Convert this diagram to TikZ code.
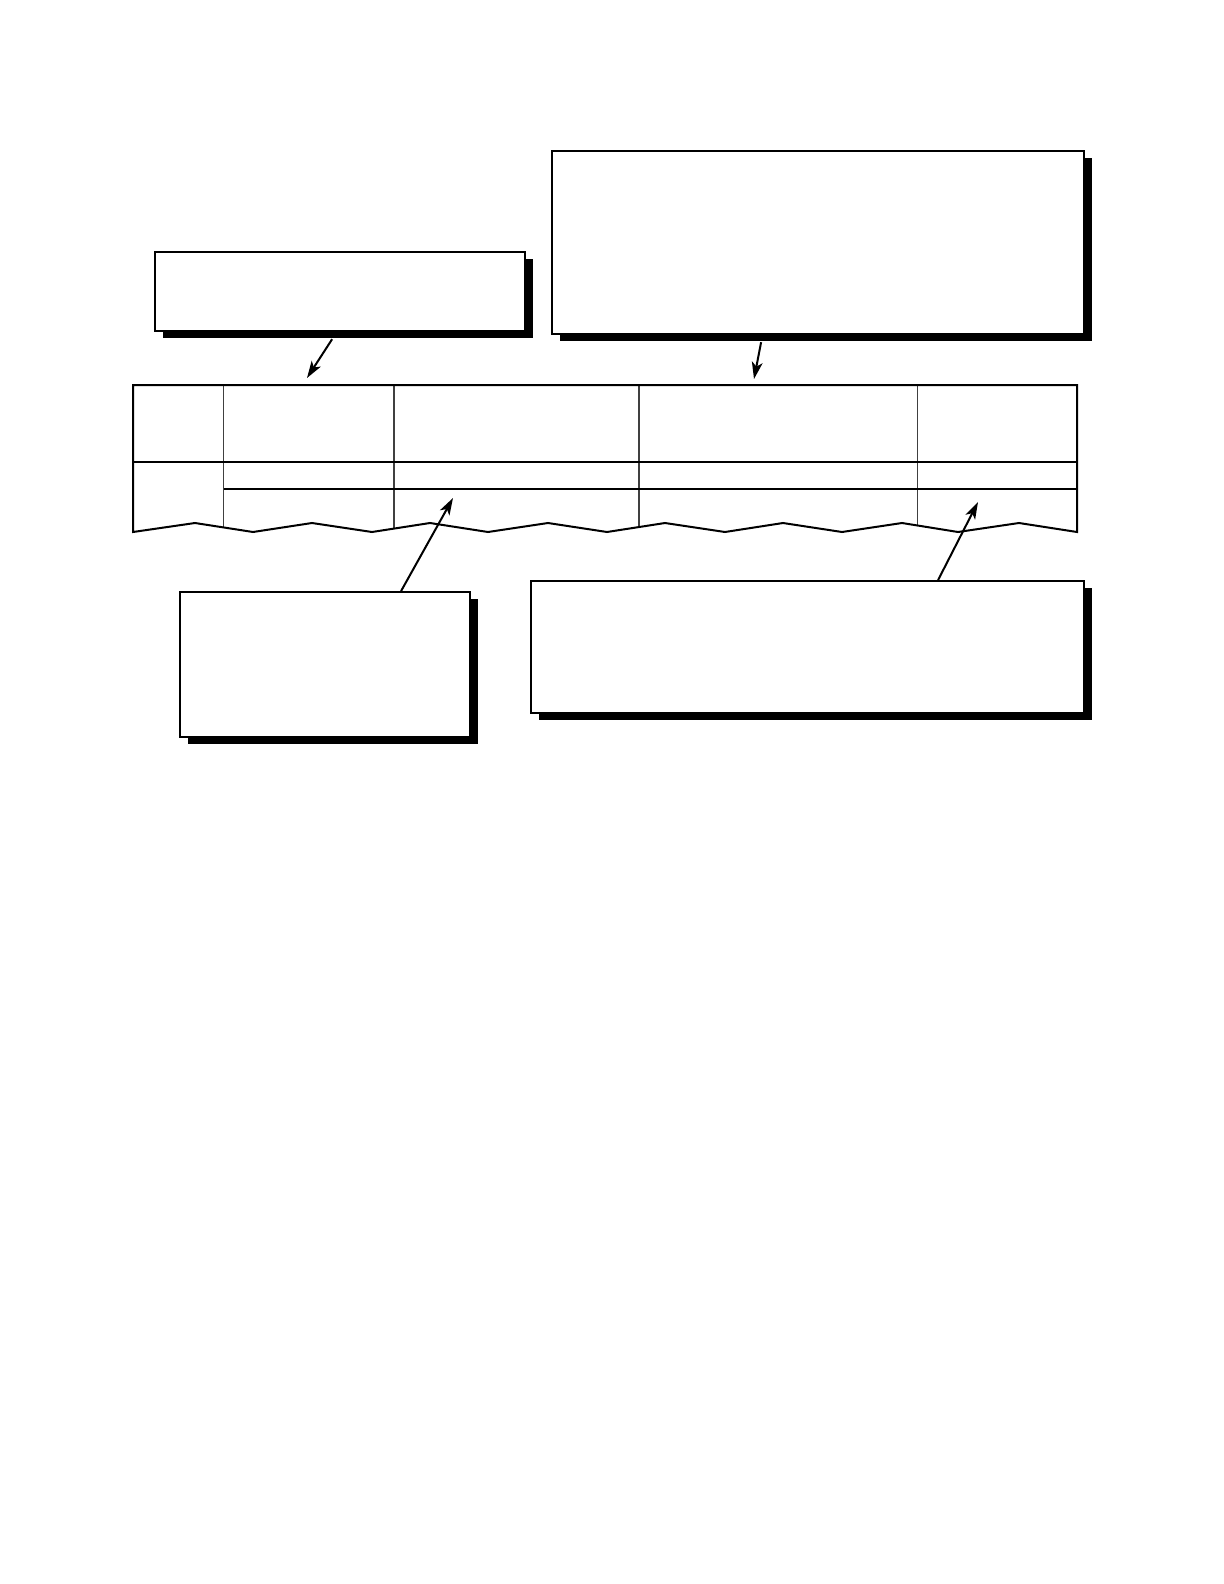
\documentclass[tikz,border=0pt]{standalone}
\usepackage{tikz}
\usetikzlibrary{arrows.meta,shadows,calc}
\tikzset{
		>={Stealth[length=8.5pt,width=5.4pt,inset=2.2pt]}
	}
\tikzset{
		callout/.style={draw,line width=1.1pt,fill=white,anchor=north west,
			drop shadow={shadow xshift=4pt,shadow yshift=-3.5pt,fill=black,opacity=1}},
		pointer/.style={->,line width=1pt}
	}
% outline of the cut-off table (zigzag at the bottom)
\newcommand{\tableoutline}{(133,532) -- (133,385) -- (1077,385) -- (1077,532)
	-- (1019,523) -- (958,532) -- (902,523) -- (842,532) -- (783,523) -- (725,532)
	-- (665,523) -- (607,532) -- (548,523) -- (488,532) -- (430,523) -- (372,532)
	-- (312,523) -- (253,532) -- (195,523) -- cycle}

\begin{document}
\begin{tikzpicture}[x=0.5pt,y=-0.5pt]
          \useasboundingbox (0,0) rectangle (1224,1584);

          % callout boxes
          \node[callout,minimum width=185pt,minimum height=39.5pt] (boxA) at (154,251) {};
          \node[callout,minimum width=266pt,minimum height=91.5pt] (boxB) at (551,150) {};
          \node[callout,minimum width=145pt,minimum height=72.5pt] (boxC) at (179,591) {};
          \node[callout,minimum width=276.5pt,minimum height=66pt] (boxD) at (530,580) {};

          % table
          \begin{scope}
            \clip \tableoutline;
            \draw[line width=0.6pt,black!75] (223.5,385) -- (223.5,535);
            \draw[line width=0.6pt,black!75] (394,385) -- (394,535);
            \draw[line width=0.6pt,black!75] (639,385) -- (639,535);
            \draw[line width=0.6pt,black!75] (917.5,385) -- (917.5,535);
            \draw[line width=1pt] (133,462) -- (1077,462);
            \draw[line width=0.6pt] (223.5,489) -- (1077,489);
          \end{scope}
          \draw[line width=1pt,line join=miter] \tableoutline;

          % arrow targets in the table
          \coordinate (tA) at (307,378);
          \coordinate (tB) at (754,379);
          \coordinate (tC) at (453,498);
          \coordinate (tD) at (978,502);

          \draw[pointer] ([xshift=-4pt,yshift=-3.5pt]boxA.south) -- (tA);
          \draw[pointer] ([xshift=-28.5pt,yshift=-3.5pt]boxB.south) -- (tB);
          \draw[pointer] ([xshift=38pt]boxC.north) -- (tC);
          \draw[pointer] ([xshift=65.25pt]boxD.north) -- (tD);

          \end{tikzpicture}
\end{document}
